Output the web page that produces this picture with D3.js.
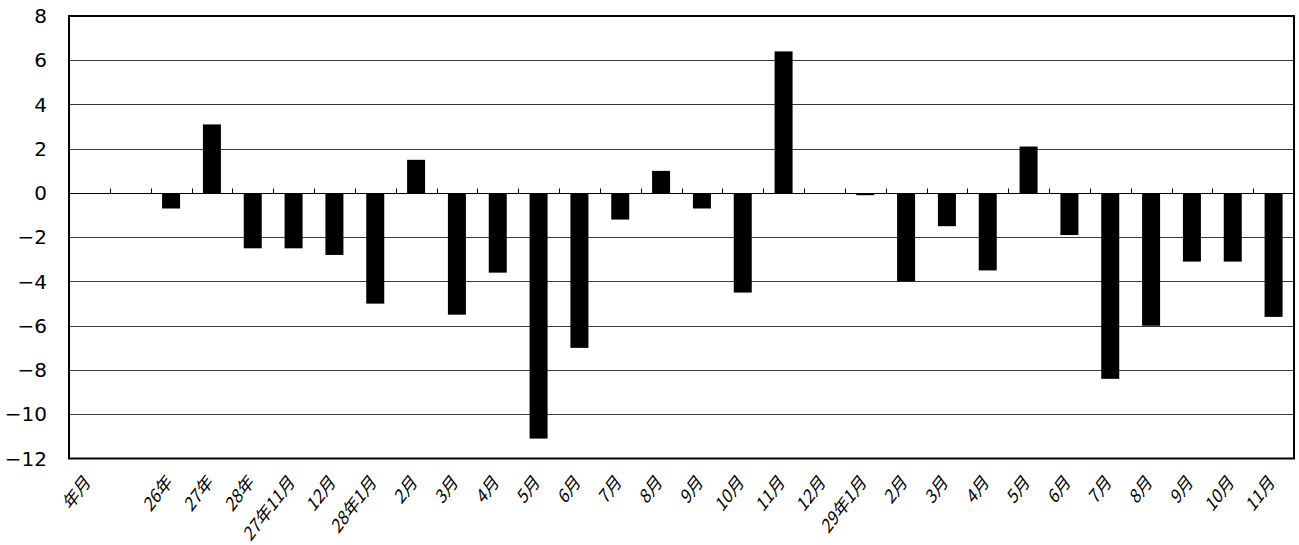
<!DOCTYPE html>
<html><head><meta charset="utf-8">
<script src="https://cdn.jsdelivr.net/npm/d3@7"></script>
<style>body{margin:0;background:#fff;} text{font-family:"Noto Sans CJK JP","Noto Sans",sans-serif;}</style>
</head><body><svg id="c" width="1299" height="545"></svg>
<script>
const categories = ["年月","","26年","27年","28年","27年11月","12月","28年1月","2月","3月","4月","5月","6月","7月","8月","9月","10月","11月","12月","29年1月","2月","3月","4月","5月","6月","7月","8月","9月","10月","11月"];
const values = [null,null,-0.7,3.1,-2.5,-2.5,-2.8,-5.0,1.5,-5.5,-3.6,-11.1,-7.0,-1.2,1.0,-0.7,-4.5,6.4,null,-0.1,-4.0,-1.5,-3.5,2.1,-1.9,-8.4,-6.0,-3.1,-3.1,-5.6];
const yTicks = [8,6,4,2,0,-2,-4,-6,-8,-10,-12];

const svg = d3.select("#c");
const L = 69, R = 1294, T = 16, B = 458.5;
const x = d3.scaleBand().domain(d3.range(categories.length)).range([L, R]).paddingInner(0).paddingOuter(0);
const y = d3.scaleLinear().domain([-12, 8]).range([B, T]);

// gridlines
svg.append("g").selectAll("line").data(yTicks.filter(d => d !== 0 && d !== 8 && d !== -12)).join("line")
  .attr("x1", L).attr("x2", R).attr("y1", d => Math.round(y(d)) + 0.5).attr("y2", d => Math.round(y(d)) + 0.5)
  .attr("stroke", "#3a3a3a").attr("stroke-width", 1);

// bars
const bw = 18;
const data = values.map((v, i) => ({i, v})).filter(d => d.v !== null);
svg.append("g").selectAll("rect").data(data).join("rect")
  .attr("x", d => x(d.i) + x.bandwidth() / 2 - bw / 2)
  .attr("width", bw)
  .attr("y", d => y(Math.max(0, d.v)))
  .attr("height", d => Math.abs(y(d.v) - y(0)))
  .attr("fill", "#000");

// zero line + ticks
const y0 = Math.round(y(0)) + 0.5;
svg.append("line").attr("x1", L).attr("x2", R).attr("y1", y0).attr("y2", y0).attr("stroke", "#000").attr("stroke-width", 1);
svg.append("g").selectAll("line").data(d3.range(1, categories.length)).join("line")
  .attr("x1", i => Math.round(x(i)) + 0.5).attr("x2", i => Math.round(x(i)) + 0.5)
  .attr("y1", y0).attr("y2", y0 - 5).attr("stroke", "#000").attr("stroke-width", 1);

// frame
svg.append("rect").attr("x", L).attr("y", T).attr("width", R - L).attr("height", B - T)
  .attr("fill", "none").attr("stroke", "#000").attr("stroke-width", 2);

// y labels
svg.append("g").selectAll("text").data(yTicks).join("text")
  .attr("x", 47).attr("y", d => y(d)).attr("dy", "0.36em").attr("text-anchor", "end")
  .attr("font-size", 20).style("font-family", "'DejaVu Sans', sans-serif")
  .text(d => d < 0 ? "−" + Math.abs(d) : d);

// x labels
svg.append("g").selectAll("text").data(categories.map((c, i) => ({c, i}))).join("text")
  .attr("transform", d => `translate(${x(d.i) + x.bandwidth() / 2 + 2},${483}) scale(1,1.32) rotate(-45)`)
  .attr("text-anchor", "end").attr("font-size", 15).text(d => d.c);
</script>
</body></html>
